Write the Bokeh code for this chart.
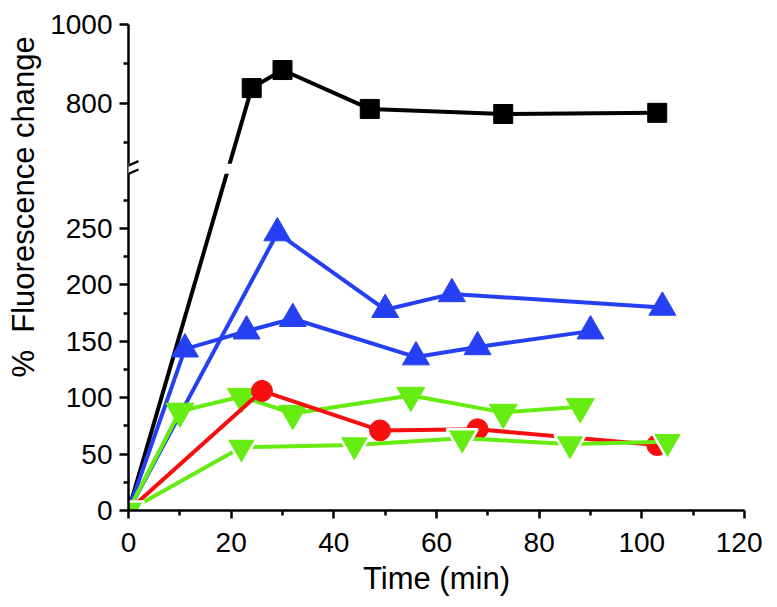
from bokeh.plotting import figure
from bokeh.models import (ColumnDataSource, FixedTicker, CustomJSTickFormatter,
                          CustomJSTransform, PolyAnnotation, Arrow, Range1d, Title)
from bokeh.transform import transform
from bokeh.embed import file_html
from bokeh.resources import INLINE

# ---------------- data ----------------
time_black = [0, 24, 30, 47, 73, 103]
fluor_black = [0, 838, 884, 785, 772, 775]

time_blue_a = [0, 29, 50, 63, 104]
fluor_blue_a = [0, 246, 178, 192, 180]

time_blue_b = [0, 11, 23, 32, 56, 68, 90]
fluor_blue_b = [0, 143, 159, 170, 136, 145, 159]

time_red = [0, 26, 49, 68, 103]
fluor_red = [0, 106, 71, 72, 58]

time_green_a = [0, 10, 22, 32, 55, 73, 88]
fluor_green_a = [0, 88, 101, 86, 102, 87, 92]

time_green_b = [0, 22, 44, 65, 86, 105]
fluor_green_b = [0, 56, 58, 64, 59, 61]

x_ticks = [0, 20, 40, 60, 80, 100, 120]
x_minor = [10, 30, 50, 70, 90, 110]
y_ticks_low = [0, 50, 100, 150, 200, 250]
y_ticks_high = [800, 1000]
y_minor_low = [25, 75, 125, 175, 225, 275]
y_minor_high = [700, 900]

x_title = "Time (min)"
y_title = "%\u00a0 Fluorescence change"

# ---------------- broken-axis mapping ----------------
LOW, HIGH, GAP, K = 300.0, 650.0, 9.0, 0.348


def disp(v):
    return v if v <= LOW else LOW + GAP + (v - HIGH) * K


brk = CustomJSTransform(
    args=dict(low=LOW, high=HIGH, gap=GAP, k=K),
    func="return x <= low ? x : low + gap + (x - high) * k;",
    v_func="""
const out = new Float64Array(xs.length);
for (let i = 0; i < xs.length; i++) {
  const v = xs[i];
  out[i] = v <= low ? v : low + gap + (v - high) * k;
}
return out;
""")

FONT = "Liberation Sans"

p = figure(width=762, height=605, output_backend="svg", toolbar_location=None,
           x_range=Range1d(0, 120), y_range=Range1d(0, disp(1000)),
           min_border_left=126, min_border_right=18,
           min_border_top=24, min_border_bottom=95)
p.outline_line_color = None
p.grid.visible = False
p.background_fill_color = "white"
p.border_fill_color = "white"

BLACK = "#000000"
BLUE = "#2540f2"
RED = "#f50f0f"
GREEN = "#66ec10"


def series(t, v, color, marker, size, lw=4, outline=None, outline_w=0):
    src = ColumnDataSource(dict(t=t, v=v))
    p.line(x="t", y=transform("v", brk), source=src, line_color=color, line_width=lw)
    p.scatter(x="t", y=transform("v", brk), source=src, marker=marker, size=size,
              fill_color=color, line_color=outline if outline else color,
              line_width=outline_w if outline else 1)


series(time_black, fluor_black, BLACK, "square", 19)
series(time_blue_a, fluor_blue_a, BLUE, "triangle", 27)
series(time_blue_b, fluor_blue_b, BLUE, "triangle", 27)
series(time_green_a, fluor_green_a, GREEN, "inverted_triangle", 28)
series(time_red, fluor_red, RED, "circle", 21)
series(time_green_b, fluor_green_b, GREEN, "inverted_triangle", 31, outline="white", outline_w=2.5)

# ---------------- axes ----------------
xa = p.xaxis[0]
xa.ticker = FixedTicker(ticks=x_ticks, minor_ticks=x_minor)
ya = p.yaxis[0]
ya.ticker = FixedTicker(ticks=[disp(v) for v in y_ticks_low + y_ticks_high],
                        minor_ticks=[disp(v) for v in y_minor_low + y_minor_high])
ya.formatter = CustomJSTickFormatter(
    args=dict(low=LOW, high=HIGH, gap=GAP, k=K),
    code="const v = tick <= low + 0.5 ? tick : high + (tick - low - gap) / k; return Math.round(v).toString();")

for ax in (xa, ya):
    ax.axis_line_width = 2.5
    ax.axis_line_color = "black"
    ax.major_tick_line_width = 2.5
    ax.minor_tick_line_width = 2.5
    ax.major_tick_line_color = "black"
    ax.minor_tick_line_color = "black"
    ax.major_tick_in = 0
    ax.minor_tick_in = 0
    ax.major_label_text_font = FONT
    ax.major_label_text_font_size = "28px"
    ax.major_label_text_color = "black"

xa.major_tick_out = 8
xa.minor_tick_out = 5
xa.major_label_standoff = 14
xa.axis_label = x_title
xa.axis_label_text_font = FONT
xa.axis_label_text_font_size = "31px"
xa.axis_label_text_font_style = "normal"
xa.axis_label_text_color = "black"
xa.axis_label_standoff = 6

ya.major_tick_out = 9
ya.minor_tick_out = 5
ya.major_label_standoff = 7

# y title: sits above the frame centre, so it is a side title with an offset
p.add_layout(Title(text=y_title, align="left", vertical_align="top", offset=133, standoff=10,
                   text_font=FONT, text_font_size="31px", text_font_style="normal",
                   text_color="black"), "left")

# ---------------- axis break ----------------
p.add_layout(PolyAnnotation(xs=[-1.5, 110, 110, -1.5], ys=[298.5, 298.5, 307.4, 307.4],
                            xs_units="data", ys_units="data",
                            fill_color="white", fill_alpha=1.0, line_color=None))
p.add_layout(Arrow(end=None, x_start=-1.94, y_start=302.0, x_end=1.94, y_end=309.7,
                   line_color="black", line_width=2.2))
p.add_layout(Arrow(end=None, x_start=-1.94, y_start=294.6, x_end=1.94, y_end=302.3,
                   line_color="black", line_width=2.2))

open("out.html", "w").write(file_html(p, INLINE))
